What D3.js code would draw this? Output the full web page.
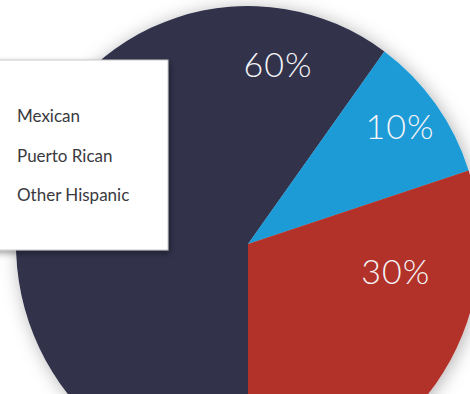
<!DOCTYPE html>
<html>
<head>
<meta charset="utf-8">
<script src="https://cdn.jsdelivr.net/npm/d3@7"></script>
<style>
  html, body { margin: 0; padding: 0; background: #ffffff; }
  svg { display: block; }
</style>
</head>
<body>
<svg id="chart" width="470" height="394"></svg>
<script>
// Hispanic origin breakdown
const categories = ["Mexican", "Puerto Rican", "Other Hispanic"];
const shares = [60, 10, 30];
const sliceColors = ["#30304c", "#1b9bd7", "#b2312a"];
const valueLabels = ["60%", "10%", "30%"];

const width = 470, height = 394;
const cx = 248, cy = 244;
const rx = 232, ry = 238;   // slightly taller than wide
const R = 100;              // unit radius, scaled into the ellipse

const svg = d3.select("#chart");
const defs = svg.append("defs");

const pieShadow = defs.append("filter").attr("id", "pieShadow")
  .attr("x", "-20%").attr("y", "-20%").attr("width", "140%").attr("height", "140%");
pieShadow.append("feDropShadow")
  .attr("dx", 2).attr("dy", 2).attr("stdDeviation", 9)
  .attr("flood-color", "#000").attr("flood-opacity", 0.3);

const boxShadow = defs.append("filter").attr("id", "boxShadow")
  .attr("x", "-20%").attr("y", "-20%").attr("width", "140%").attr("height", "140%");
boxShadow.append("feDropShadow")
  .attr("dx", 2).attr("dy", 3).attr("stdDeviation", 3)
  .attr("flood-color", "#000").attr("flood-opacity", 0.35);

// Navy slice starts at 6 o'clock and wraps round to the top right
const pie = d3.pie()
  .sort(null)
  .value(d => d)
  .startAngle(Math.PI)
  .endAngle(3 * Math.PI);

const arcs = pie(shares);
const arc = d3.arc().innerRadius(0).outerRadius(R);

const pieG = svg.append("g")
  .attr("filter", "url(#pieShadow)")
  .append("g")
  .attr("transform", `translate(${cx},${cy}) scale(${rx / R},${ry / R})`);

pieG.selectAll("path")
  .data(arcs)
  .join("path")
  .attr("d", arc)
  .attr("fill", (d, i) => sliceColors[i]);

// Value labels, placed along an angle inside each slice
const labelPolar = [
  { a: arcs[0].endAngle - 0.455, r: 0.75 },
  { a: (arcs[1].startAngle + arcs[1].endAngle) / 2, r: 0.81 },
  { a: arcs[2].startAngle + 0.517, r: 0.65 }
];
svg.append("g")
  .selectAll("text")
  .data(valueLabels)
  .join("text")
  .attr("x", (d, i) => cx + Math.sin(labelPolar[i].a) * rx * labelPolar[i].r)
  .attr("y", (d, i) => cy - Math.cos(labelPolar[i].a) * ry * labelPolar[i].r)
  .attr("text-anchor", "middle")
  .attr("dominant-baseline", "middle")
  .attr("fill", "#f4f4f6")
  .attr("font-family", "Lato, 'Open Sans', sans-serif")
  .attr("font-weight", 300)
  .attr("font-size", 34)
  .attr("letter-spacing", 1)
  .text(d => d);

// Legend box, partly off the left edge
const legend = svg.append("g");
legend.append("rect")
  .attr("x", -20).attr("y", 60)
  .attr("width", 188).attr("height", 190)
  .attr("fill", "#ffffff")
  .attr("stroke", "#c8c8c8")
  .attr("stroke-width", 1)
  .attr("filter", "url(#boxShadow)");

const legendY = d3.scalePoint()
  .domain(categories)
  .range([118, 197]);

legend.selectAll("text")
  .data(categories)
  .join("text")
  .attr("x", 17)
  .attr("y", d => legendY(d))
  .attr("dominant-baseline", "middle")
  .attr("fill", "#3a3a40")
  .attr("font-family", "Lato, 'Open Sans', sans-serif")
  .attr("font-size", 17)
  .text(d => d);
</script>
</body>
</html>
